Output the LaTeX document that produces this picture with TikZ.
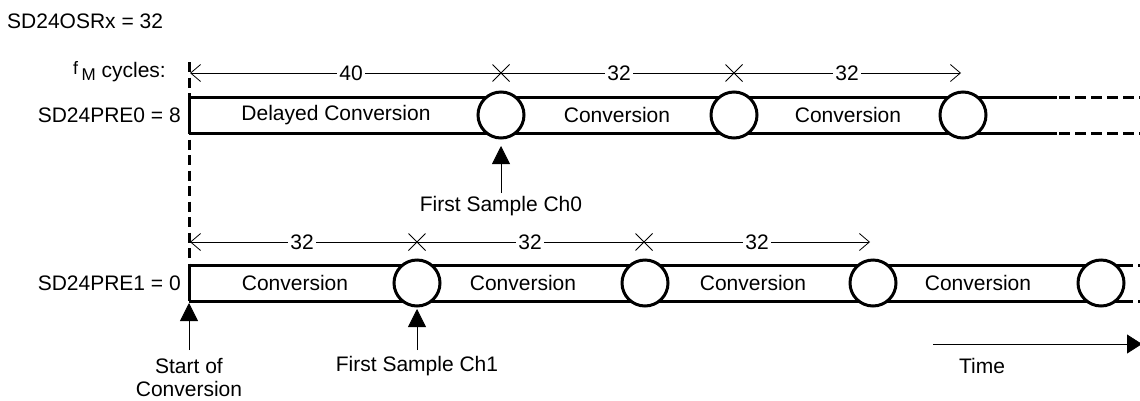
\documentclass[tikz,border=0pt]{standalone}
\usepackage{fontspec}
\setmainfont{Liberation Sans}
\usetikzlibrary{arrows.meta}
\begin{document}
\begin{tikzpicture}[x=1pt,y=-1pt,
  every node/.style={font=\fontsize{21}{24}\selectfont, inner sep=0pt},
  barline/.style={line width=3pt},
  bardash/.style={line width=3pt, dash pattern=on 11pt off 5pt},
  samp/.style={circle, draw, line width=3pt, fill=white, minimum size=46pt},
  dimtip/.style={line width=0.8pt, {Straight Barb[length=10pt,width=17pt]}-{Straight Barb[length=10pt,width=17pt]}},
  dimnum/.style={fill=white, inner xsep=2pt},
  xmark/.style={line width=0.8pt},
  uparrow/.style={line width=0.8pt, -{Triangle[length=18pt,width=18pt]}}
]
\useasboundingbox (0,0) rectangle (1140,400);
\clip (0,0) rectangle (1140,400);

% titles and row labels
\node[anchor=west] (osr) at (7,21) {SD24OSRx = 32};
\node[anchor=east] (fm) at (166,72) {\raisebox{3pt}{\fontsize{18}{18}\selectfont f}\,\raisebox{-3pt}{\fontsize{17}{17}\selectfont M} cycles:};
\node[anchor=east] (pre0) at (181,115) {SD24PRE0 = 8};
\node[anchor=east] (pre1) at (181,283) {SD24PRE1 = 0};

% start coordinates
\coordinate (s0t) at (189,97);
\coordinate (s0b) at (189,133);
\coordinate (s1t) at (189,265);
\coordinate (s1b) at (189,301);
\coordinate (vtop) at (189,62);

% vertical dashed start line
\draw[line width=3pt, dash pattern=on 10pt off 5.5pt] (vtop) -- (s1t);
\draw[barline] (s0t) -- (s0b);
\draw[barline] (s1t) -- (s1b);

% ---------- row 0 ----------
\coordinate (e0t) at (1057,97);
\coordinate (e0b) at (1057,133);
\coordinate (f0t) at (1150,97);
\coordinate (f0b) at (1150,133);
\draw[barline] (s0t) -- (e0t);
\draw[barline] (s0b) -- (e0b);
\draw[bardash] (1059,97) -- (f0t);
\draw[bardash] (1059,133) -- (f0b);
\node[samp] (c01) at (501,115) {};
\node[samp] (c02) at (734,115) {};
\node[samp] (c03) at (963,115) {};
\node (t01) at (336,115) {Delayed Conversion};
\node (t02) at (617,115) {Conversion};
\node (t03) at (848,115) {Conversion};

% ---------- row 1 ----------
\coordinate (e1t) at (1133,265);
\coordinate (e1b) at (1133,301);
\draw[barline] (s1t) -- (e1t);
\draw[barline] (s1b) -- (e1b);
\draw[bardash] (1138,265) -- (1150,265);
\draw[bardash] (1138,301) -- (1150,301);
\node[samp] (c11) at (417,283) {};
\node[samp] (c12) at (645,283) {};
\node[samp] (c13) at (873,283) {};
\node[samp] (c14) at (1101,283) {};
\node (t11) at (295,283) {Conversion};
\node (t12) at (523,283) {Conversion};
\node (t13) at (753,283) {Conversion};
\node (t14) at (978,283) {Conversion};

% ---------- dimension line row 0 ----------
\coordinate (d0a) at (190,73);
\coordinate (d0b) at (961,73);
\draw[dimtip] (d0a) -- (d0b);
\node[dimnum] (n01) at (351,73) {40};
\node[dimnum] (n02) at (619,73) {32};
\node[dimnum] (n03) at (847,73) {32};
\foreach \xx in {501,734}{
  \draw[xmark] (\xx-8.5,64.5) -- (\xx+8.5,81.5) (\xx-8.5,81.5) -- (\xx+8.5,64.5);
}

% ---------- dimension line row 1 ----------
\coordinate (d1a) at (190,242);
\coordinate (d1b) at (870,242);
\draw[dimtip] (d1a) -- (d1b);
\node[dimnum] (n11) at (302,242) {32};
\node[dimnum] (n12) at (530,242) {32};
\node[dimnum] (n13) at (757,242) {32};
\foreach \xx in {417,644}{
  \draw[xmark] (\xx-8.5,233.5) -- (\xx+8.5,250.5) (\xx-8.5,250.5) -- (\xx+8.5,233.5);
}

% ---------- markers ----------
\node (fs0) at (501,206) {First Sample Ch0};
\coordinate (fs0b) at (501,193);
\coordinate (fs0t) at (501,146);
\draw[uparrow] (fs0b) -- (fs0t);

\node (soc1) at (189,366) {Start of};
\node (soc2) at (189,389) {Conversion};
\coordinate (socb) at (189,350);
\coordinate (soct) at (189,303);
\draw[uparrow] (socb) -- (soct);

\node (fs1) at (417,366) {First Sample Ch1};
\coordinate (fs1b) at (417,350);
\coordinate (fs1t) at (417,309);
\draw[uparrow] (fs1b) -- (fs1t);

\node (time) at (982,366) {Time};
\coordinate (ta) at (933,344);
\coordinate (tb) at (1142,344);
\draw[line width=0.8pt, -{Triangle[length=15pt,width=19pt]}] (ta) -- (tb);
\end{tikzpicture}
\end{document}
